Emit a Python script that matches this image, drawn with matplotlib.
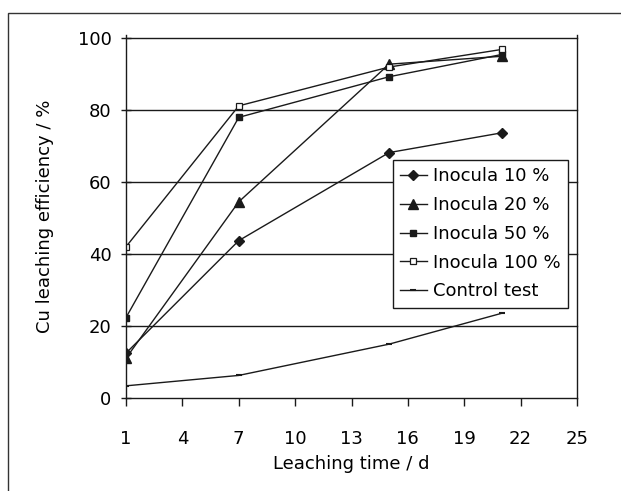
import matplotlib
matplotlib.use("Agg")
import matplotlib.pyplot as plt
from matplotlib.patches import Rectangle

days = [1, 7, 15, 21]
inocula_10 = [12.4, 43.7, 68.2, 73.7]
inocula_20 = [11.0, 54.5, 92.8, 95.0]
inocula_50 = [22.3, 78.0, 89.3, 95.5]
inocula_100 = [42.0, 81.2, 92.0, 96.9]
control = [3.3, 6.2, 14.9, 23.5]
labels = ["Inocula 10 %", "Inocula 20 %", "Inocula 50 %", "Inocula 100 %", "Control test"]
xticks = [1, 4, 7, 10, 13, 16, 19, 22, 25]
yticks = [0, 20, 40, 60, 80, 100]

plt.rcParams['font.family'] = ['DejaVu Sans']
plt.rcParams['font.size'] = 13

fig = plt.figure(figsize=(6.21, 4.91), dpi=100)
ax = fig.add_axes([126/621, 1-397.7/491, 451/621, (397.7-34.7)/491])

lc = '#1a1a1a'
ax.plot(days, inocula_10, color=lc, lw=1.0, marker='D', ms=5.5, mfc=lc, mec=lc, label=labels[0])
ax.plot(days, inocula_20, color=lc, lw=1.0, marker='^', ms=7, mfc=lc, mec=lc, label=labels[1])
ax.plot(days, inocula_50, color=lc, lw=1.0, marker='s', ms=5, mfc=lc, mec=lc, label=labels[2])
ax.plot(days, inocula_100, color=lc, lw=1.0, marker='s', ms=5, mfc='white', mec=lc, mew=0.9, label=labels[3])
ax.plot(days, control, color=lc, lw=1.0, marker='_', ms=4, mec=lc, mew=1.5, label=labels[4])

ax.set_xlim(1, 25)
ax.set_ylim(0, 101)
ax.set_xticks(xticks)
ax.set_yticks(yticks)
for y in yticks:
    ax.axhline(y, color=lc, lw=1.0, zorder=0.5, clip_on=False)

for s in ['top', 'bottom']:
    ax.spines[s].set_visible(False)
for s in ['left', 'right']:
    ax.spines[s].set_color(lc)
    ax.spines[s].set_linewidth(1.0)

ax.tick_params(axis='x', direction='out', length=6, width=1.0, pad=17, color=lc)
ax.tick_params(axis='y', direction='inout', length=7, width=1.0, pad=7, color=lc)

ax.set_xlabel("Leaching time / d", labelpad=5)
ax.set_ylabel("Cu leaching efficiency / %", labelpad=17)

leg = ax.legend(loc='upper left', bbox_to_anchor=(0.591, 0.655), borderaxespad=0,
                frameon=True, fancybox=False, edgecolor=lc, framealpha=1,
                handlelength=1.5, handletextpad=0.35, labelspacing=0.6,
                borderpad=0.4)
leg.get_frame().set_linewidth(1.0)

fig.add_artist(Rectangle((8/621, -0.1), 1.2, 1 - 13/491 + 0.1, transform=fig.transFigure,
                         fill=False, edgecolor='#333333', lw=1.0))

fig.savefig("out.png", dpi=100)
